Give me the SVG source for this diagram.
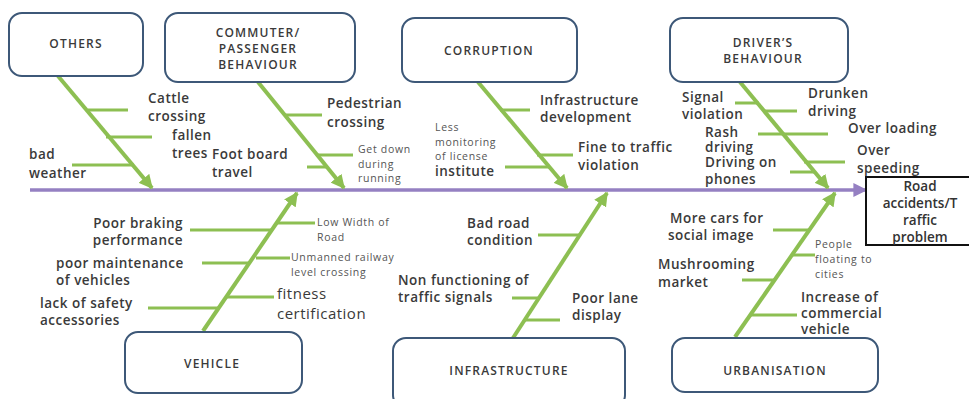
<svg xmlns="http://www.w3.org/2000/svg" width="969" height="399" viewBox="0 0 969 399">
<style>
.box{fill:#fff;stroke:#3d5878;stroke-width:2}
.cat{font-family:"Open Sans",sans-serif;font-size:12px;font-weight:600;fill:#3a3a3a;letter-spacing:1.2px;text-anchor:middle}
.t{font-family:"Open Sans",sans-serif;font-size:13.5px;font-weight:600;fill:#3a3a3a;letter-spacing:0.5px}
.s{font-family:"Open Sans",sans-serif;font-size:10.5px;fill:#555;letter-spacing:0.7px}
.bone{stroke:#8dbf52;stroke-width:4;fill:none}
.sub{stroke:#8dbf52;stroke-width:3;fill:none}
.spine{stroke:#9580c2;stroke-width:3.5;fill:none}
.eff{font-family:"Open Sans",sans-serif;font-size:13.5px;font-weight:600;fill:#333;text-anchor:middle}
</style>
<defs>
<marker id="ag" viewBox="0 0 10 10" refX="9" refY="5" markerWidth="14" markerHeight="14" markerUnits="userSpaceOnUse" orient="auto"><path d="M0,0 L10,5 L0,10 Z" fill="#8dbf52"/></marker>
<marker id="ap" viewBox="0 0 10 10" refX="9" refY="5" markerWidth="14" markerHeight="14" markerUnits="userSpaceOnUse" orient="auto"><path d="M0,0 L10,5 L0,10 Z" fill="#9580c2"/></marker>
</defs>

<g id="connectors">
<line class="spine" x1="30" y1="190" x2="866" y2="190" marker-end="url(#ap)"/>
<line class="bone" x1="58" y1="76" x2="152" y2="188" marker-end="url(#ag)"/>
<line class="bone" x1="258" y1="82" x2="344" y2="188" marker-end="url(#ag)"/>
<line class="bone" x1="478" y1="82" x2="567" y2="188" marker-end="url(#ag)"/>
<line class="bone" x1="740" y1="82" x2="828" y2="188" marker-end="url(#ag)"/>
<line class="bone" x1="203" y1="331" x2="297" y2="193" marker-end="url(#ag)"/>
<line class="bone" x1="513" y1="338" x2="607" y2="193" marker-end="url(#ag)"/>
<line class="bone" x1="735" y1="337" x2="835" y2="193" marker-end="url(#ag)"/>
<!-- others -->
<line class="sub" x1="88" y1="110" x2="128" y2="110"/>
<line class="sub" x1="106" y1="137" x2="152" y2="137"/>
<line class="sub" x1="72" y1="165" x2="134" y2="165"/>
<!-- commuter -->
<line class="sub" x1="285" y1="115" x2="322" y2="115"/>
<line class="sub" x1="316" y1="155" x2="353" y2="155"/>
<line class="sub" x1="307" y1="167" x2="328" y2="167"/>
<!-- corruption -->
<line class="sub" x1="500" y1="110" x2="530" y2="110"/>
<line class="sub" x1="537" y1="155" x2="573" y2="155"/>
<line class="sub" x1="505" y1="167" x2="549" y2="167"/>
<!-- driver -->
<line class="sub" x1="735" y1="103" x2="759" y2="103"/>
<line class="sub" x1="764" y1="111" x2="797" y2="111"/>
<line class="sub" x1="758" y1="134" x2="828" y2="134"/>
<line class="sub" x1="804" y1="162" x2="845" y2="162"/>
<line class="sub" x1="790" y1="172" x2="815" y2="172"/>
<!-- vehicle -->
<line class="sub" x1="190" y1="230" x2="272" y2="230"/>
<line class="sub" x1="277" y1="223" x2="315" y2="223"/>
<line class="sub" x1="202" y1="263" x2="250" y2="263"/>
<line class="sub" x1="256" y1="258" x2="290" y2="258"/>
<line class="sub" x1="148" y1="308" x2="218" y2="308"/>
<line class="sub" x1="226" y1="297" x2="274" y2="297"/>
<!-- infrastructure -->
<line class="sub" x1="538" y1="235" x2="580" y2="235"/>
<line class="sub" x1="512" y1="298" x2="539" y2="298"/>
<line class="sub" x1="524" y1="320" x2="560" y2="320"/>
<!-- urbanisation -->
<line class="sub" x1="773" y1="230" x2="810" y2="230"/>
<line class="sub" x1="792" y1="255" x2="815" y2="255"/>
<line class="sub" x1="742" y1="280" x2="774" y2="280"/>
<line class="sub" x1="749" y1="315" x2="797" y2="315"/>
</g>

<g id="others">
<rect class="box" x="9" y="13" width="134" height="63" rx="13"/>
<text class="cat" x="76" y="48">OTHERS</text>
</g>
<g id="commuter">
<rect class="box" x="165" y="13" width="190" height="69" rx="13"/>
<text class="cat" x="258" y="37">COMMUTER/</text>
<text class="cat" x="258" y="53">PASSENGER</text>
<text class="cat" x="258" y="69">BEHAVIOUR</text>
</g>
<g id="corruption">
<rect class="box" x="402" y="18" width="175" height="64" rx="13"/>
<text class="cat" x="489" y="55">CORRUPTION</text>
</g>
<g id="driver">
<rect class="box" x="670" y="18" width="178" height="64" rx="13"/>
<text class="cat" x="763" y="47">DRIVER’S</text>
<text class="cat" x="763" y="63">BEHAVIOUR</text>
</g>
<g id="vehicle">
<rect class="box" x="125" y="332" width="177" height="61" rx="13"/>
<text class="cat" x="212" y="368">VEHICLE</text>
</g>
<g id="infrastructure">
<rect class="box" x="393" y="338" width="232" height="70" rx="13"/>
<text class="cat" x="509" y="375">INFRASTRUCTURE</text>
</g>
<g id="urbanisation">
<rect class="box" x="672" y="338" width="206" height="54" rx="13"/>
<text class="cat" x="775" y="375">URBANISATION</text>
</g>
<g id="effect">
<rect x="866" y="177" width="110" height="68" fill="#fff" stroke="#111" stroke-width="2"/>
<text class="eff" x="920" y="191">Road</text>
<text class="eff" x="920" y="208">accidents/T</text>
<text class="eff" x="920" y="225">raffic</text>
<text class="eff" x="920" y="242">problem</text>
</g>

<g id="labels">
<text class="t" x="148" y="103">Cattle</text>
<text class="t" x="148" y="121">crossing</text>
<text class="t" x="172" y="140">fallen</text>
<text class="t" x="172" y="158">trees</text>
<text class="t" x="29" y="159">bad</text>
<text class="t" x="29" y="178">weather</text>
<text class="t" x="212" y="159">Foot board</text>
<text class="t" x="212" y="177">travel</text>
<text class="t" x="327" y="108">Pedestrian</text>
<text class="t" x="327" y="127">crossing</text>
<text class="s" x="358" y="153">Get down</text>
<text class="s" x="358" y="168">during</text>
<text class="s" x="358" y="182">running</text>
<text class="s" x="435" y="131">Less</text>
<text class="s" x="435" y="146">monitoring</text>
<text class="s" x="435" y="160">of license</text>
<text class="t" x="435" y="176">institute</text>
<text class="t" x="540" y="105">Infrastructure</text>
<text class="t" x="540" y="122">development</text>
<text class="t" x="578" y="152">Fine to traffic</text>
<text class="t" x="578" y="170">violation</text>
<text class="t" x="682" y="102">Signal</text>
<text class="t" x="682" y="119">violation</text>
<text class="t" x="705" y="137">Rash</text>
<text class="t" x="705" y="152">driving</text>
<text class="t" x="705" y="167">Driving on</text>
<text class="t" x="705" y="184">phones</text>
<text class="t" x="808" y="98">Drunken</text>
<text class="t" x="808" y="116">driving</text>
<text class="t" x="848" y="133">Over loading</text>
<text class="t" x="857" y="155">Over</text>
<text class="t" x="857" y="173">speeding</text>

<text class="t" x="183" y="228" text-anchor="end">Poor braking</text>
<text class="t" x="183" y="245" text-anchor="end">performance</text>
<text class="t" x="56" y="268">poor maintenance</text>
<text class="t" x="56" y="285">of vehicles</text>
<text class="t" x="40" y="308">lack of safety</text>
<text class="t" x="40" y="325">accessories</text>
<text class="s" x="317" y="226">Low Width of</text>
<text class="s" x="317" y="241">Road</text>
<text class="s" x="291" y="261">Unmanned railway</text>
<text class="s" x="291" y="276">level crossing</text>
<text class="t" x="277" y="299" style="font-weight:400;font-size:15px">fitness</text>
<text class="t" x="277" y="319" style="font-weight:400;font-size:15px">certification</text>

<text class="t" x="467" y="228">Bad road</text>
<text class="t" x="467" y="245">condition</text>
<text class="t" x="398" y="285">Non functioning of</text>
<text class="t" x="398" y="302">traffic signals</text>
<text class="t" x="572" y="303">Poor lane</text>
<text class="t" x="572" y="320">display</text>

<text class="t" x="670" y="223">More cars for</text>
<text class="t" x="668" y="240">social image</text>
<text class="t" x="658" y="269">Mushrooming</text>
<text class="t" x="658" y="287">market</text>
<text class="s" x="815" y="248">People</text>
<text class="s" x="815" y="263">floating to</text>
<text class="s" x="815" y="278">cities</text>
<text class="t" x="801" y="302">Increase of</text>
<text class="t" x="801" y="318">commercial</text>
<text class="t" x="801" y="334">vehicle</text>
</g>
</svg>
